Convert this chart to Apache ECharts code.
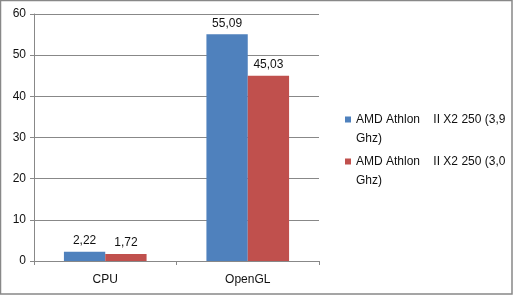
<!DOCTYPE html>
<html><head><meta charset="utf-8">
<script src="https://cdn.jsdelivr.net/npm/echarts@6/dist/echarts.min.js"></script>
<style>html,body{margin:0;padding:0;background:#fff}#c{width:514px;height:299px}</style>
</head><body><div id="c"></div>
<script>
var categories = ['CPU', 'OpenGL'];
var seriesNames = ['AMD Athlon    II X2 250 (3,9 Ghz)', 'AMD Athlon    II X2 250 (3,0 Ghz)'];
var blueValues = [2.22, 55.09];
var redValues = [1.72, 45.03];
var yTicks = [0, 10, 20, 30, 40, 50, 60];

var chart = echarts.init(document.getElementById('c'));
var font = 'Liberation Sans, Arial, sans-serif';
function fmt(v){ return v.toFixed(2).replace('.', ','); }
chart.setOption({
  animation: false,
  graphic: [{type:'rect', shape:{x:0.5, y:0.5, width:511.5, height:293.5}, style:{fill:'none', stroke:'#888', lineWidth:1.5}, silent:true}],
  grid: {left: 34, top: 14, width: 285, height: 247, containLabel: false},
  legend: {
    orient: 'vertical', left: 340, top: 105, itemWidth: 6, itemHeight: 25, itemGap: 4,
    icon: 'path://M0,0 H6 V6 H0 Z M0,24.99 H0.01 V25 H0 Z',
    data: seriesNames,
    formatter: function(n){ return n.replace(' Ghz)', '\nGhz)'); },
    textStyle: {fontFamily: font, fontSize: 12, color: '#111', lineHeight: 19, padding:[0,0,0,0]}
  },
  xAxis: {
    type: 'category', data: categories,
    axisLine: {lineStyle: {color: '#888'}},
    axisTick: {show: true, length: 4, lineStyle: {color: '#888'}},
    axisLabel: {fontFamily: font, fontSize: 12, color: '#111', margin: 13}
  },
  yAxis: {
    type: 'value', min: 0, max: 60, interval: 10,
    axisLine: {show: true, lineStyle: {color: '#888'}},
    axisTick: {show: true, length: 4, lineStyle: {color: '#888'}},
    splitLine: {lineStyle: {color: '#888'}},
    axisLabel: {fontFamily: font, fontSize: 12, color: '#111', margin: 8,
      formatter: function(v){ return yTicks.indexOf(v) >= 0 ? String(v) : ''; }}
  },
  series: [
    {name: seriesNames[0], type: 'bar', data: blueValues, barGap: '0%', barCategoryGap: '42%',
     itemStyle: {color: '#4f81bd'},
     label: {show: true, position: 'top', distance: 5, fontFamily: font, fontSize: 12, color: '#111', formatter: function(p){return fmt(p.value);}}},
    {name: seriesNames[1], type: 'bar', data: redValues, barGap: '0%', barCategoryGap: '42%',
     itemStyle: {color: '#c0504d'},
     label: {show: true, position: 'top', distance: 5, fontFamily: font, fontSize: 12, color: '#111', formatter: function(p){return fmt(p.value);}}}
  ]
});
</script></body></html>
